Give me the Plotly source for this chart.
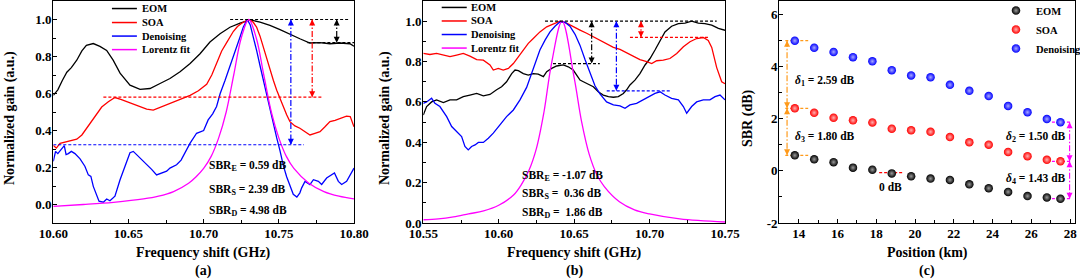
import plotly.graph_objects as go

FONT = "Liberation Serif"

# ---------------- Panel (a) data: (frequency GHz, normalized gain) ----------------
eom_a = [(10.600,0.59),(10.603,0.62),(10.606,0.67),(10.609,0.715),(10.612,0.74),(10.6156,0.78),(10.619,0.83),
         (10.622,0.86),(10.6266,0.87),(10.631,0.855),(10.6355,0.833),(10.6398,0.78),(10.6444,0.71),(10.651,0.645),
         (10.6577,0.622),(10.6643,0.627),(10.671,0.654),(10.6776,0.681),(10.6843,0.717),(10.691,0.762),(10.6976,0.815),
         (10.7042,0.878),(10.7109,0.923),(10.7175,0.958),(10.7242,0.98),(10.7308,0.998),(10.7375,0.986),(10.7441,0.968),
         (10.7508,0.945),(10.7574,0.919),(10.764,0.896),(10.7707,0.873),(10.7774,0.875),(10.784,0.869),(10.7907,0.873),
         (10.7973,0.869),(10.800,0.855)]
soa_a = [(10.600,0.319),(10.602,0.305),(10.6045,0.33),(10.609,0.34),(10.6156,0.353),(10.619,0.376),(10.6233,0.424),
         (10.6277,0.473),(10.6322,0.527),(10.6366,0.555),(10.641,0.578),(10.6449,0.568),(10.6488,0.555),(10.6533,0.54),
         (10.6577,0.528),(10.6621,0.515),(10.6665,0.51),(10.671,0.525),(10.6754,0.538),(10.6798,0.555),(10.6843,0.568),
         (10.6876,0.58),(10.691,0.59),(10.6965,0.615),(10.702,0.65),(10.7054,0.70),(10.7087,0.77),(10.712,0.83),
         (10.7153,0.875),(10.7175,0.905),(10.7197,0.935),(10.7225,0.962),(10.7253,0.98),(10.7285,0.994),(10.7308,0.998),
         (10.7330,0.985),(10.7352,0.959),(10.7375,0.91),(10.7397,0.851),(10.742,0.79),(10.744,0.726),(10.7464,0.67),
         (10.7486,0.618),(10.7508,0.57),(10.753,0.528),(10.7552,0.485),(10.7574,0.448),(10.7607,0.425),(10.764,0.412),
         (10.7673,0.395),(10.7707,0.376),(10.774,0.385),(10.7774,0.394),(10.7807,0.42),(10.784,0.448),(10.7874,0.455),
         (10.7907,0.466),(10.793,0.47),(10.795,0.478),(10.7975,0.475),(10.800,0.42)]
den_a = [(10.600,0.233),(10.6015,0.287),(10.603,0.275),(10.6056,0.30),(10.6073,0.318),(10.6085,0.27),(10.610,0.275),
         (10.612,0.287),(10.6144,0.275),(10.6178,0.247),(10.621,0.207),(10.6233,0.16),(10.625,0.152),(10.6266,0.098),
         (10.628,0.072),(10.6304,0.018),(10.6333,0.0125),(10.6355,0.03),(10.6377,0.02),(10.641,0.045),(10.6444,0.134),
         (10.6477,0.205),(10.651,0.28),(10.6532,0.287),(10.6554,0.27),(10.6587,0.24),(10.662,0.215),(10.6654,0.19),
         (10.6687,0.16),(10.672,0.17),(10.6754,0.18),(10.6776,0.197),(10.680,0.205),(10.682,0.215),(10.685,0.24),
         (10.688,0.287),(10.6909,0.33),(10.6953,0.385),(10.6976,0.394),(10.700,0.40),(10.703,0.457),(10.706,0.49),
         (10.7086,0.53),(10.711,0.60),(10.7142,0.67),(10.7175,0.744),(10.7197,0.80),(10.722,0.85),(10.7242,0.905),
         (10.7264,0.96),(10.7290,1.0),(10.731,0.97),(10.733,0.91),(10.7353,0.83),(10.7375,0.75),(10.7397,0.67),
         (10.742,0.59),(10.7441,0.52),(10.7464,0.44),(10.7486,0.36),(10.7508,0.29),(10.753,0.21),(10.7552,0.15),
         (10.7574,0.10),(10.7596,0.055),(10.762,0.04),(10.764,0.063),(10.7652,0.09),(10.7674,0.125),(10.7707,0.108),
         (10.773,0.134),(10.7763,0.125),(10.7785,0.108),(10.7818,0.143),(10.785,0.16),(10.787,0.17),(10.7896,0.125),
         (10.7918,0.108),(10.7951,0.125),(10.7973,0.16),(10.800,0.197)]
lor_a = [(10.600,-0.01),(10.62,0.0),(10.64,0.012),(10.66,0.03),(10.67,0.045),(10.68,0.07),(10.69,0.115),(10.695,0.15),
         (10.70,0.195),(10.705,0.26),(10.71,0.36),(10.715,0.50),(10.72,0.70),(10.725,0.90),(10.73,1.0),(10.735,0.90),
         (10.74,0.70),(10.745,0.50),(10.75,0.36),(10.755,0.26),(10.76,0.195),(10.77,0.115),(10.78,0.07),(10.79,0.045),
         (10.80,0.03)]

# ---------------- Panel (b) data ----------------
eom_b = [(10.55,0.535),(10.5522,0.577),(10.5555,0.60),(10.5588,0.61),(10.5633,0.597),(10.5677,0.61),(10.5721,0.61),
         (10.5765,0.626),(10.5809,0.634),(10.5854,0.642),(10.5898,0.63),(10.5942,0.637),(10.5986,0.66),(10.6019,0.675),
         (10.6052,0.70),(10.6086,0.74),(10.6108,0.758),(10.613,0.755),(10.6163,0.74),(10.6196,0.733),(10.6229,0.74),
         (10.6262,0.738),(10.6296,0.725),(10.6318,0.75),(10.6351,0.766),(10.6384,0.778),(10.6428,0.783),(10.6461,0.774),
         (10.6494,0.758),(10.6517,0.733),(10.6539,0.708),(10.6561,0.70),(10.6594,0.689),(10.6627,0.675),(10.666,0.65),
         (10.6693,0.634),(10.6727,0.626),(10.676,0.623),(10.6793,0.626),(10.6826,0.642),(10.6848,0.66),(10.687,0.684),
         (10.6903,0.708),(10.6936,0.74),(10.697,0.783),(10.7003,0.815),(10.7036,0.857),(10.7069,0.906),(10.7102,0.947),
         (10.7146,0.975),(10.7191,0.988),(10.7235,0.99),(10.7279,1.0),(10.7323,0.99),(10.7367,0.988),(10.7412,0.98),
         (10.7456,0.964),(10.75,0.955)]
soa_b = [(10.55,0.84),(10.5544,0.835),(10.5588,0.84),(10.5633,0.832),(10.5677,0.824),(10.5721,0.832),(10.5765,0.84),
         (10.5809,0.827),(10.5854,0.81),(10.5898,0.807),(10.5942,0.783),(10.5964,0.758),(10.5997,0.766),(10.603,0.758),
         (10.6064,0.766),(10.6097,0.79),(10.613,0.824),(10.6163,0.857),(10.6196,0.89),(10.6229,0.914),(10.6273,0.947),
         (10.6318,0.972),(10.6362,0.988),(10.6406,1.0),(10.645,0.99),(10.6494,0.975),(10.6539,0.956),(10.6583,0.94),
         (10.6627,0.922),(10.6671,0.906),(10.6715,0.885),(10.676,0.87),(10.6804,0.86),(10.6848,0.843),(10.6892,0.827),
         (10.6936,0.81),(10.6981,0.80),(10.7014,0.79),(10.7047,0.804),(10.7091,0.807),(10.7135,0.815),(10.718,0.84),
         (10.7224,0.873),(10.7268,0.898),(10.7312,0.914),(10.7356,0.919),(10.7389,0.905),(10.7412,0.87),(10.7445,0.77),
         (10.7478,0.70),(10.75,0.69)]
den_b = [(10.55,0.593),(10.5522,0.60),(10.5555,0.618),(10.5577,0.593),(10.561,0.577),(10.5655,0.527),(10.5688,0.478),
         (10.5721,0.453),(10.5754,0.428),(10.5776,0.379),(10.5798,0.362),(10.582,0.379),(10.5843,0.387),(10.5865,0.399),
         (10.5898,0.399),(10.5931,0.42),(10.5964,0.445),(10.6008,0.486),(10.6052,0.527),(10.6097,0.56),(10.6141,0.61),
         (10.6185,0.672),(10.6229,0.76),(10.6273,0.857),(10.6307,0.906),(10.634,0.947),(10.6373,0.975),(10.6406,0.997),
         (10.6439,0.995),(10.6472,0.975),(10.6506,0.935),(10.6539,0.88),(10.6572,0.81),(10.6605,0.74),(10.6638,0.68),
         (10.6671,0.64),(10.6715,0.60),(10.676,0.585),(10.6804,0.58),(10.6837,0.568),(10.687,0.585),(10.6914,0.593),
         (10.6959,0.61),(10.7003,0.63),(10.7036,0.642),(10.7069,0.65),(10.7102,0.634),(10.7146,0.618),(10.7191,0.61),
         (10.7224,0.577),(10.7246,0.544),(10.7279,0.577),(10.7312,0.60),(10.7356,0.61),(10.74,0.61),(10.7434,0.626),
         (10.7467,0.634),(10.75,0.61)]
lor_b = [(10.55,0.016),(10.56,0.02),(10.57,0.03),(10.58,0.045),(10.59,0.06),(10.60,0.088),(10.61,0.14),(10.615,0.19),
         (10.62,0.26),(10.625,0.37),(10.63,0.55),(10.635,0.79),(10.642,1.0),(10.65,0.72),(10.655,0.50),(10.66,0.34),
         (10.665,0.24),(10.67,0.18),(10.68,0.105),(10.69,0.065),(10.70,0.045),(10.72,0.02),(10.75,0.005)]

# ---------------- Panel (c) data ----------------
position_km = [13.8, 14.8, 15.8, 16.8, 17.8, 18.8, 19.8, 20.8, 21.8, 22.8, 23.8, 24.8, 25.8, 26.8, 27.5]
sbr_eom = [0.59, 0.44, 0.33, 0.12, 0.04, -0.10, -0.21, -0.30, -0.35, -0.52, -0.67, -0.81, -0.97, -1.02, -1.07]
sbr_soa = [2.39, 2.22, 2.03, 1.93, 1.85, 1.61, 1.55, 1.49, 1.29, 1.09, 1.00, 0.72, 0.56, 0.42, 0.36]
sbr_den = [4.98, 4.71, 4.55, 4.35, 4.19, 3.85, 3.65, 3.58, 3.29, 3.06, 2.86, 2.48, 2.24, 1.98, 1.86]

# tick values / labels
ticks_a_x = [10.60, 10.65, 10.70, 10.75, 10.80]
ticks_b_x = [10.55, 10.60, 10.65, 10.70, 10.75]
ticks_ab_y = [0.0, 0.2, 0.4, 0.6, 0.8, 1.0]
ticks_c_x = [14, 16, 18, 20, 22, 24, 26, 28]
ticks_c_y = [-2, 0, 2, 4, 6]

# guide lines (value-based)
hguides_a = [(1.0, 10.7176, 10.797, "black"), (0.875, 10.769, 10.80, "black"),
             (0.58, 10.6333, 10.7796, "red"), (0.323, 10.60, 10.7667, "blue")]
vguides_a = [(10.7885, 1.0, 0.875, "black"), (10.7722, 1.0, 0.58, "red"), (10.758, 1.0, 0.323, "blue")]
hguides_b = [(1.0, 10.6307, 10.7445, "black"), (0.79, 10.636, 10.667, "black"),
             (0.655, 10.6716, 10.7135, "blue"), (0.92, 10.687, 10.740, "red")]
vguides_b = [(10.6616, 1.0, 0.79, "black"), (10.678, 1.0, 0.655, "blue"), (10.6943, 1.0, 0.92, "red")]
ORANGE = "#FF9A1A"
hguides_c = [(4.98, 13.31, 14.49, ORANGE), (2.39, 13.31, 14.49, ORANGE), (0.59, 13.31, 14.49, ORANGE),
             (1.86, 27.06, 28.0, "#FF00FF"), (0.36, 27.06, 28.0, "#FF00FF"), (-1.07, 27.06, 28.0, "#FF00FF"),
             (-0.07, 18.15, 19.4, "red")]
vguides_c = [(13.40, 4.98, 2.39, ORANGE), (13.40, 2.39, 0.59, ORANGE),
             (27.97, 1.86, 0.36, "#FF00FF"), (27.97, 0.36, -1.07, "#FF00FF")]

fig = go.Figure()

def curve(pts, color, xa, ya, spline=False):
    fig.add_trace(go.Scatter(
        x=[p[0] for p in pts], y=[p[1] for p in pts], mode="lines",
        line=dict(color=color, width=1.3, shape="spline" if spline else "linear"),
        xaxis=xa, yaxis=ya, showlegend=False, hoverinfo="skip"))

for pts, col, sp in [(eom_a, "black", False), (soa_a, "red", False), (den_a, "blue", False), (lor_a, "#FF00FF", True)]:
    curve(pts, col, "x", "y", sp)
for pts, col, sp in [(eom_b, "black", False), (soa_b, "red", False), (den_b, "blue", False), (lor_b, "#FF00FF", True)]:
    curve(pts, col, "x2", "y2", sp)

annotations = []

def add_guides(hg, vg, xa, ya):
    for yv, x0, x1, col in hg:
        fig.add_trace(go.Scatter(x=[x0, x1], y=[yv, yv], mode="lines",
                                 line=dict(color=col, width=1.2, dash="3px,2px"),
                                 xaxis=xa, yaxis=ya, showlegend=False, hoverinfo="skip"))
    for xv, y0, y1, col in vg:
        fig.add_trace(go.Scatter(x=[xv, xv], y=[y0, y1], mode="lines",
                                 line=dict(color=col, width=1.2, dash="6px,2px,1.5px,2px"),
                                 xaxis=xa, yaxis=ya, showlegend=False, hoverinfo="skip"))
        for tip, off in [(max(y0, y1), 7), (min(y0, y1), -7)]:
            annotations.append(dict(x=xv, y=tip, xref=xa, yref=ya, text="", showarrow=True,
                                    ax=0, ay=off, arrowhead=2, arrowsize=1.0, arrowwidth=1.2,
                                    arrowcolor=col, standoff=0))

add_guides(hguides_a, vguides_a, "x", "y")
add_guides(hguides_b, vguides_b, "x2", "y2")
add_guides(hguides_c, vguides_c, "x3", "y3")

# panel (c) scatter
for name, vals, col, center in [("EOM", sbr_eom, "black", "#9a9a9a"),
                                ("SOA", sbr_soa, "#FF0000", "#FFB0B0"),
                                ("Denoising", sbr_den, "#0000FF", "#A8A8FF")]:
    fig.add_trace(go.Scatter(x=position_km, y=vals, mode="markers", name=name,
                             marker=dict(size=8.5, color=col, line=dict(width=0),
                                         gradient=dict(type="radial", color=center)),
                             xaxis="x3", yaxis="y3", hoverinfo="skip"))

def txt(x, y, s, xref, yref, size=11.5, xanchor="left", angle=0, color="black"):
    annotations.append(dict(x=x, y=y, xref=xref, yref=yref, text=s, showarrow=False,
                            xanchor=xanchor, yanchor="middle", textangle=angle,
                            font=dict(family=FONT, size=size, color=color, weight="bold")))

# SBR texts
txt(10.7022, 0.206, "SBR<sub>E</sub> = 0.59 dB", "x", "y")
txt(10.7022, 0.081, "SBR<sub>S</sub> = 2.39 dB", "x", "y")
txt(10.7022, -0.036, "SBR<sub>D</sub> = 4.98 dB", "x", "y")
txt(10.6141, 0.233, "SBR<sub>E</sub> = -1.07 dB", "x2", "y2")
txt(10.6141, 0.144, "SBR<sub>S</sub> =\u00a0 0.36 dB", "x2", "y2")
txt(10.6141, 0.052, "SBR<sub>D</sub> =\u00a0 1.86 dB", "x2", "y2")
txt(13.72, 3.45, "<i>δ</i><sub>1</sub> = 2.59 dB", "x3", "y3")
txt(13.72, 1.29, "<i>δ</i><sub>3</sub> = 1.80 dB", "x3", "y3")
txt(24.57, 1.29, "<i>δ</i><sub>2</sub> = 1.50 dB", "x3", "y3")
txt(24.57, -0.32, "<i>δ</i><sub>4</sub> = 1.43 dB", "x3", "y3")
txt(18.73, -0.62, "0 dB", "x3", "y3", xanchor="center")

# manual legends for (a) and (b)
legend_names = ["EOM", "SOA", "Denoising", "Lorentz fit"]
legend_cols = ["black", "red", "blue", "#FF00FF"]
shapes = []
for xd, yd, lx0, lx1, tx, rows in [("x domain", "y domain", 0.195, 0.278, 0.289, [0.966, 0.903, 0.842, 0.781]),
                                   ("x2 domain", "y2 domain", 0.061, 0.144, 0.151, [0.971, 0.910, 0.849, 0.788])]:
    for nm, col, ry in zip(legend_names, legend_cols, rows):
        shapes.append(dict(type="line", xref=xd, yref=yd, x0=lx0, x1=lx1, y0=ry, y1=ry,
                           line=dict(color=col, width=1.5)))
        txt(tx, ry, nm, xd, yd, size=10.5)

# axis titles
H = 279.0
for cx, lbl, tl in [(203.7, "(a)", "Frequency shift (GHz)"), (574.0, "(b)", "Frequency shift (GHz)"),
                    (927.0, "(c)", "Position (km)")]:
    txt(cx / 1080, 1 - 252.5 / H, tl, "paper", "paper", size=14, xanchor="center")
    txt(cx / 1080, 1 - 270.5 / H, lbl, "paper", "paper", size=14, xanchor="center")
for cx, tl in [(10, "Normalized gain (a.u.)"), (385, "Normalized gain (a.u.)"), (748, "SBR (dB)")]:
    txt(cx / 1080, 1 - 118 / H, tl, "paper", "paper", size=14, xanchor="center", angle=-90)

def axis(domain, rng, tickvals, fmt, minor_vals, anchor, standoff):
    return dict(domain=domain, range=rng, tickmode="array", tickvals=tickvals,
                ticktext=[fmt.format(v) for v in tickvals],
                showline=True, mirror=True, linecolor="black", linewidth=1.3,
                ticks="inside", ticklen=4, tickwidth=1.2, tickcolor="black",
                showgrid=False, zeroline=False, anchor=anchor, ticklabelstandoff=standoff,
                automargin=False,
                tickfont=dict(family=FONT, size=13, color="black", weight="bold"),
                minor=dict(tickvals=minor_vals, ticks="inside", ticklen=2.5, tickwidth=1,
                           tickcolor="black", showgrid=False))

ydom = [1 - 223 / H, 1 - 1 / H]
minor_a_x = [10.625, 10.675, 10.725, 10.775]
minor_b_x = [10.575, 10.625, 10.675, 10.725]
minor_ab_y = [-0.1, 0.1, 0.3, 0.5, 0.7, 0.9, 1.1]
minor_c_x = [13, 15, 17, 19, 21, 23, 25, 27]
minor_c_y = [-1, 1, 3, 5]

fig.update_layout(
    width=1080, height=279, margin=dict(l=0, r=0, t=0, b=0, autoexpand=False),
    paper_bgcolor="white", plot_bgcolor="white",
    xaxis=axis([53.3 / 1080, 354 / 1080], [10.60, 10.80], ticks_a_x, "{:.2f}", minor_a_x, "y", -2),
    yaxis=axis(ydom, [-0.1, 1.1], ticks_ab_y, "{:.1f}", minor_ab_y, "x", -2),
    xaxis2=axis([423.3 / 1080, 725 / 1080], [10.55, 10.75], ticks_b_x, "{:.2f}", minor_b_x, "y2", -2),
    yaxis2=axis(ydom, [0, 1.1], ticks_ab_y, "{:.1f}", minor_ab_y, "x2", -2),
    xaxis3=axis([779.3 / 1080, 1075 / 1080], [13, 28.25], ticks_c_x, "{:d}", minor_c_x, "y3", -2),
    yaxis3=axis(ydom, [-2, 6.5], ticks_c_y, "{:d}", minor_c_y, "x3", -2),
    legend=dict(x=996 / 1080, y=1 + 4 / H, xanchor="left", yanchor="top",
                bgcolor="rgba(0,0,0,0)", borderwidth=0,
                font=dict(family=FONT, size=10.5, color="black", weight="bold"),
                itemwidth=30, tracegroupgap=0),
    annotations=annotations, shapes=shapes, showlegend=True,
)

fig.write_html("out.html", config={"displayModeBar": False},
               post_script="document.body.style.margin='0px';")
